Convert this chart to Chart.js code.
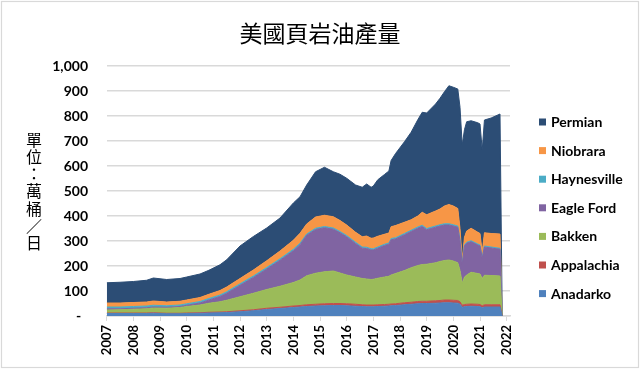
<!DOCTYPE html>
<html><head><meta charset="utf-8">
<script src="https://cdn.jsdelivr.net/npm/chart.js@4/dist/chart.umd.min.js"></script>
<style>html,body{margin:0;padding:0;background:#fff}#wrap{width:640px;height:369px}</style>
</head><body><div id="wrap"><canvas id="c" width="640" height="369"></canvas></div>
<script>
const chartTitle = '美國頁岩油產量';
const yAxisTitle = '單位：萬桶／日';
const yearTicks = [2007,2008,2009,2010,2011,2012,2013,2014,2015,2016,2017,2018,2019,2020,2021,2022];

const months = ['2007-01','2007-07','2008-01','2008-07','2008-10','2009-04','2009-10','2010-01','2010-07','2010-11',
'2011-04','2011-07','2012-01','2012-07','2013-01','2013-07','2014-01','2014-04','2014-07','2014-11',
'2015-03','2015-07','2015-10','2016-01','2016-05','2016-08','2016-10','2016-12','2017-01','2017-03',
'2017-06','2017-08','2017-09','2017-11','2018-03','2018-06','2018-09','2018-11','2019-01','2019-05',
'2019-07','2019-09','2019-11','2020-01','2020-03','2020-04','2020-05','2020-06','2020-07','2020-09',
'2020-12','2021-01','2021-02','2021-03','2021-06','2021-10','2021-11'];

const anadarko   = [10,10,10,10,11,9,9,10,11,12, 13,14,17,21,26,30,34,36,38,40, 41,42,42,41,39,38,37,37,37,38, 39,40,41,42,45,47,49,50,50,51, 52,53,53,52,51,47,35,37,38,39, 38,37,33,36,36,36,0];
const appalachia = [2,2,2,2,2,2,2,2,2,3, 3,3,4,4,5,5,6,6,7,7, 8,8,8,8,8,7,7,7,7,7, 7,7,7,7,8,8,9,9,9,10, 10,11,11,11,11,10,8,9,9,9, 9,9,8,9,9,9,0];
const bakken     = [12,13,15,17,19,20,23,26,31,36, 41,46,56,66,75,84,94,102,116,124, 128,130,122,115,109,105,104,102,103,106, 110,112,116,121,129,138,144,147,148,152, 156,158,160,157,151,125,88,109,117,127, 123,122,109,118,117,115,0];
const eagleFord  = [5,4,4,4,4,4,4,5,8,13, 21,28,46,63,82,104,127,141,162,175, 176,167,161,153,134,121,122,118,117,120, 126,128,141,138,143,145,149,152,138,142, 142,142,140,140,142,118,73,125,127,122, 114,112,81,113,110,107,0];
const haynesville= [7,7,7,7,7,6,6,6,6,6, 6,6,6,6,6,6,6,6,5,5, 5,5,5,5,5,5,5,5,5,5, 5,5,5,5,5,5,5,5,5,5, 5,5,5,5,5,5,4,4,4,4, 4,4,3,4,4,4,0];
const niobrara   = [16,16,16,16,17,15,15,15,16,17, 18,19,21,24,27,31,36,40,40,45, 45,45,44,42,40,41,45,42,43,43, 40,40,47,49,45,42,44,52,55,60, 63,71,77,75,70,45,16,31,45,50, 47,46,21,53,54,57,0];
const permian    = [81,83,84,87,92,90,91,92,94,96, 103,109,130,134,131,132,149,146,156,181, 192,180,185,187,189,198,208,204,208,226, 239,248,265,288,322,350,385,400,407,428, 443,457,475,475,478,485,460,430,437,430, 438,438,409,451,462,480,0];

const seriesNames  = ['Anadarko','Appalachia','Bakken','Eagle Ford','Haynesville','Niobrara','Permian'];
const seriesValues = [anadarko, appalachia, bakken, eagleFord, haynesville, niobrara, permian];
const seriesColors = ['#4F81BD','#C0504D','#9BBB59','#8064A2','#4BACC6','#F79646','#2C4D75'];

const toX = m => { const p = m.split('-').map(Number); return p[0] + (p[1]-1)/12; };

const decor = {
  id: 'decor',
  beforeDraw(chart) {
    const c = chart.ctx; c.save();
    c.fillStyle = '#fff'; c.fillRect(0,0,chart.width,chart.height);
    c.strokeStyle = '#d9d9d9'; c.lineWidth = 1.2;
    c.strokeRect(1.5,1.5,chart.width-3,chart.height-3);
    c.restore();
  },
  afterDraw(chart) {
    const c = chart.ctx; c.save();
    c.fillStyle = '#000';
    // chart title, centred on the whole picture
    c.font = '23px "Noto Sans CJK TC"';
    c.textAlign = 'center'; c.textBaseline = 'middle';
    c.fillText(chartTitle, 320, 33);
    // vertical y-axis title
    c.font = '16px "Noto Sans CJK TC"';
    Array.from(yAxisTitle).forEach((ch,k) => c.fillText(ch, 34, 139.5 + k*17.3));
    // legend
    const items = chart.data.datasets.map(d => ({label:d.label, color:d.backgroundColor})).reverse();
    c.textAlign = 'left'; c.font = 'bold 14px Lato';
    items.forEach((it,k) => {
      const y = 122 + k*28.6;
      c.fillStyle = it.color; c.fillRect(539, y-3.5, 7, 7);
      c.fillStyle = '#000'; c.fillText(it.label, 551, y+0.5);
    });
    c.restore();
  }
};

new Chart(document.getElementById('c'), {
  type: 'line',
  data: {
    datasets: seriesNames.map((name,i) => ({
      label: name,
      data: months.map((m,j) => ({x: toX(m), y: seriesValues[i][j]})),
      backgroundColor: seriesColors[i],
      borderColor: seriesColors[i],
      borderWidth: 1,
      pointRadius: 0,
      tension: 0,
      fill: i === 0 ? 'origin' : '-1'
    }))
  },
  options: {
    responsive: false, animation: false, devicePixelRatio: 1,
    layout: { padding: { left: 0, right: 130, top: 66, bottom: 8 }, autoPadding: false },
    plugins: {
      legend: { display: false },
      tooltip: { enabled: false },
      title: { display: false }
    },
    scales: {
      x: {
        type: 'linear', min: 2007, max: 2022.125,
        afterBuildTicks: s => { s.ticks = yearTicks.map(v => ({value: v})); },
        afterFit: s => { s.height = 45; },
        ticks: { callback: v => String(v), minRotation: 90, maxRotation: 90, autoSkip: false,
          padding: 4, color: '#000', font: { family: 'Lato', size: 13, weight: 'bold' } },
        grid: { drawOnChartArea: false, drawTicks: true, tickLength: 5, color: '#d9d9d9', lineWidth: 1 },
        border: { color: '#d9d9d9', width: 1.5 }
      },
      y: {
        stacked: true, min: 0, max: 1000,
        afterFit: s => { s.width = 106.7; },
        ticks: { stepSize: 100, padding: 18.7, color: '#000',
          callback: v => v === 0 ? '-  ' : v.toLocaleString('en-US'),
          font: { family: 'Lato', size: 14, weight: 'bold' } },
        grid: { color: '#d9d9d9', lineWidth: 1.5, drawTicks: false },
        border: { display: false }
      }
    }
  },
  plugins: [decor]
});
</script></body></html>
